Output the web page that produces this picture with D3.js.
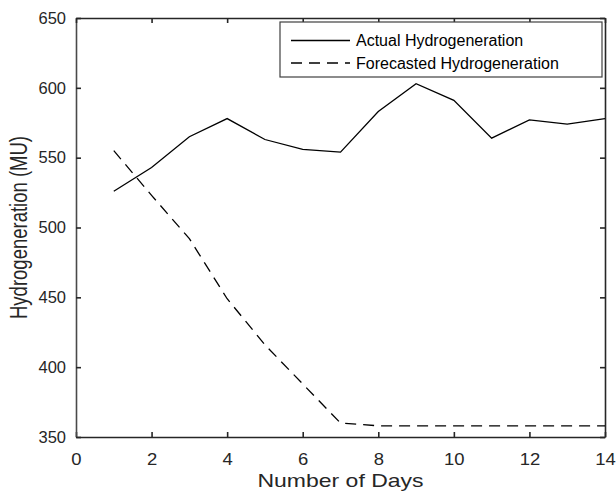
<!DOCTYPE html>
<html><head><meta charset="utf-8">
<script src="https://cdn.jsdelivr.net/npm/d3@7"></script>
<style>body{margin:0;background:#fff}svg{display:block}</style>
</head><body>
<svg id="c" width="616" height="496"></svg>
<script>
const days = [1,2,3,4,5,6,7,8,9,10,11,12,13,14];
const actual = [526,543,565,578,563,556,554,583,603,591,564,577,574,578];
const forecast = [555,523,492,449,416,388,360,358,358,358,358,358,358,358];
const xTicks = [0,2,4,6,8,10,12,14];
const yTicks = [350,400,450,500,550,600,650];
const seriesNames = ["Actual Hydrogeneration","Forecasted Hydrogeneration"];

(function(){
const svg = d3.select("#c");
const L=76, R=605, T=18, B=437;
const x = d3.scaleLinear().domain([0,14]).range([L,R]);
const y = d3.scaleLinear().domain([350,650]).range([B,T]);
const font = "Liberation Sans, Arial, sans-serif";
const axCol = "#262626";

const gBottom = svg.append("g").attr("transform",`translate(0,${B})`)
  .call(d3.axisBottom(x).tickValues(xTicks).tickSizeInner(-5).tickSizeOuter(0).tickPadding(16));
const gLeft = svg.append("g").attr("transform",`translate(${L},0)`)
  .call(d3.axisLeft(y).tickValues(yTicks).tickSizeInner(-5).tickSizeOuter(0).tickPadding(10));
const gTop = svg.append("g").attr("transform",`translate(0,${T})`)
  .call(d3.axisTop(x).tickValues(xTicks).tickSizeInner(-5).tickSizeOuter(0).tickFormat(""));
const gRight = svg.append("g").attr("transform",`translate(${R},0)`)
  .call(d3.axisRight(y).tickValues(yTicks).tickSizeInner(-5).tickSizeOuter(0).tickFormat(""));
[gBottom,gLeft,gTop,gRight].forEach(g=>{
  g.selectAll("path").attr("stroke",axCol).attr("stroke-width",1.6);
  g.selectAll("line").attr("stroke",axCol).attr("stroke-width",1.6);
  g.selectAll("text").attr("fill",axCol).style("font-family",font).style("font-size","16.5px");
});
gLeft.select("path").attr("stroke","#4a4a4a");
gBottom.selectAll("text").attr("transform","scale(1.12,1)")
  .attr("x",function(){return 0;});
// keep bottom tick labels centred on ticks after horizontal stretch
gBottom.selectAll(".tick").each(function(d){
  d3.select(this).select("text").attr("transform","scale(1.12,1)");
});

const line = d3.line().x((d,i)=>x(days[i])).y(d=>y(d));
svg.append("path").datum(actual).attr("d",line).attr("fill","none")
  .attr("stroke","#000").attr("stroke-width",1.3);
svg.append("path").datum(forecast).attr("d",line).attr("fill","none")
  .attr("stroke","#000").attr("stroke-width",1.3).attr("stroke-dasharray","11,7");

svg.append("text").attr("x",(L+R)/2).attr("y",487).attr("text-anchor","middle")
  .attr("fill",axCol).style("font-family",font).style("font-size","18.5px")
  .attr("textLength",166).attr("lengthAdjust","spacingAndGlyphs").text("Number of Days");
svg.append("text").attr("transform",`translate(27,${(T+B)/2}) scale(1.25,1) rotate(-90)`).attr("text-anchor","middle")
  .attr("fill",axCol).style("font-family",font).style("font-size","18.5px").text("Hydrogeneration (MU)");

const lg = svg.append("g");
lg.append("rect").attr("x",280).attr("y",22).attr("width",322).attr("height",55)
  .attr("fill","#fff").attr("stroke","#404040").attr("stroke-width",1.2);
const rows=[{dash:null,y:40.5},{dash:"11,7",y:63}];
rows.forEach((r,i)=>{
  const l=lg.append("line").attr("x1",291).attr("x2",350).attr("y1",r.y).attr("y2",r.y)
    .attr("stroke","#000").attr("stroke-width",1.3);
  if(r.dash) l.attr("stroke-dasharray",r.dash);
  lg.append("text").attr("x",356).attr("y",r.y).attr("dy","0.35em")
    .attr("fill","#000").style("font-family",font).style("font-size","16px").text(seriesNames[i]);
});
})();
</script>
</body></html>
